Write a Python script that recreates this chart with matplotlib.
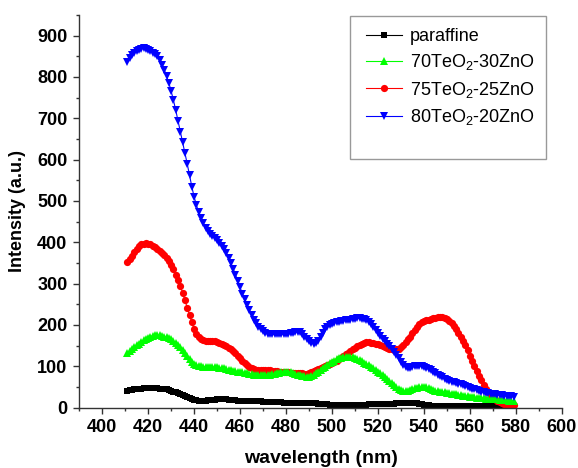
import matplotlib
matplotlib.use("Agg")
import matplotlib.pyplot as plt
from matplotlib.patches import Rectangle
from matplotlib.ticker import MultipleLocator

plt.rcParams['font.family'] = ['Liberation Sans', 'DejaVu Sans']
plt.rcParams['mathtext.fontset'] = 'custom'
plt.rcParams['mathtext.rm'] = 'Liberation Sans'
plt.rcParams['mathtext.it'] = 'Liberation Sans:italic'
plt.rcParams['mathtext.bf'] = 'Liberation Sans:bold'

# wavelength grid (nm), one reading per nm
wavelength = list(range(411, 580))

paraffine = [
    40, 42, 43, 44, 45, 46, 46, 47, 47, 47, 47, 47, 47, 47, 46, 46, 45, 44, 43, 41,
    39, 37, 35, 32, 30, 27, 25, 23, 21, 19, 18, 17, 17, 17, 17, 18, 18, 19, 19, 20,
    20, 20, 20, 20, 19, 19, 18, 18, 17, 17, 17, 16, 16, 16, 16, 15, 15, 15, 15, 14,
    14, 14, 14, 13, 13, 13, 13, 13, 12, 12, 12, 12, 12, 12, 12, 11, 11, 11, 12, 12,
    12, 11, 10, 9, 9, 8, 8, 8, 7, 7, 7, 7, 7, 7, 7, 7, 7, 7, 7, 7,
    7, 7, 7, 7, 7, 8, 8, 8, 8, 8, 8, 8, 8, 8, 9, 9, 9, 10, 10, 11,
    11, 12, 12, 12, 12, 11, 10, 9, 8, 7, 6, 6, 5, 5, 5, 4, 4, 4, 4, 4,
    4, 3, 3, 3, 3, 3, 3, 3, 3, 3, 3, 3, 3, 3, 3, 3, 4, 4, 5, 5,
    6, 6, 6, 6, 6, 6, 5, 5, 5,
]

teo70 = [
    132, 136, 141, 146, 151, 155, 159, 163, 166, 169, 172, 174, 175, 175, 175, 174, 172, 170, 168, 165,
    161, 157, 152, 146, 139, 132, 124, 117, 111, 106, 103, 101, 100, 99, 99, 99, 99, 98, 98, 98,
    97, 96, 95, 93, 92, 90, 89, 88, 87, 86, 85, 84, 83, 82, 81, 80, 80, 80, 80, 80,
    80, 80, 80, 81, 82, 83, 84, 85, 86, 86, 86, 85, 84, 82, 80, 78, 77, 76, 75, 75,
    76, 79, 83, 87, 91, 95, 99, 103, 107, 111, 114, 117, 119, 121, 122, 123, 123, 123, 122, 120,
    118, 115, 112, 109, 106, 103, 99, 95, 91, 87, 83, 79, 74, 69, 64, 59, 54, 49, 45, 42,
    40, 40, 41, 43, 45, 47, 48, 49, 50, 50, 49, 47, 45, 43, 41, 40, 39, 38, 37, 36,
    35, 34, 33, 32, 31, 30, 29, 28, 27, 26, 25, 25, 24, 24, 23, 23, 22, 22, 21, 21,
    20, 20, 19, 19, 18, 18, 17, 17, 16,
]

teo75 = [
    353, 360, 368, 377, 385, 391, 395, 397, 398, 397, 395, 392, 388, 384, 380, 375, 369, 362, 354, 345,
    335, 322, 308, 294, 278, 260, 242, 224, 206, 190, 178, 170, 165, 163, 162, 162, 162, 162, 161, 159,
    157, 155, 152, 149, 145, 141, 136, 131, 125, 119, 113, 107, 102, 98, 95, 93, 92, 91, 91, 91,
    90, 90, 90, 89, 89, 88, 87, 87, 86, 86, 85, 84, 83, 83, 83, 83, 83, 82, 82, 83,
    85, 88, 91, 94, 96, 98, 100, 102, 105, 108, 111, 114, 117, 121, 125, 129, 133, 137, 141, 145,
    149, 152, 155, 157, 158, 158, 157, 156, 155, 153, 151, 149, 147, 145, 143, 141, 140, 141, 143, 147,
    152, 158, 165, 172, 180, 188, 195, 202, 206, 209, 211, 213, 214, 216, 217, 219, 220, 219, 217, 214,
    210, 205, 198, 190, 181, 172, 162, 151, 139, 126, 113, 101, 89, 77, 66, 55, 46, 38, 31, 25,
    20, 16, 13, 10, 9, 8, 7, 7, 7,
]

teo80 = [
    837, 845, 852, 858, 863, 866, 868, 869, 868, 866, 863, 859, 855, 850, 842, 830, 818, 802, 786, 766,
    744, 720, 694, 668, 643, 617, 590, 562, 535, 510, 490, 473, 458, 446, 435, 427, 420, 415, 410, 405,
    398, 391, 383, 374, 363, 350, 336, 322, 306, 291, 276, 262, 249, 236, 224, 213, 204, 196, 190, 185,
    181, 179, 178, 177, 177, 177, 178, 178, 177, 177, 178, 180, 181, 182, 183, 182, 178, 172, 166, 161,
    157, 155, 156, 162, 171, 181, 190, 196, 200, 203, 205, 207, 208, 209, 210, 211, 212, 213, 214, 215,
    216, 216, 215, 214, 212, 208, 202, 195, 188, 180, 173, 166, 160, 154, 148, 142, 135, 127, 119, 111,
    104, 99, 96, 96, 98, 100, 101, 101, 100, 98, 96, 93, 90, 87, 84, 80, 76, 73, 70, 67,
    65, 63, 61, 60, 58, 56, 54, 52, 50, 48, 46, 44, 42, 40, 38, 37, 36, 35, 34, 33,
    32, 31, 30, 30, 29, 28, 28, 27, 26,
]

labels = ['paraffine', '70TeO$_2$-30ZnO', '75TeO$_2$-25ZnO', '80TeO$_2$-20ZnO']
colors = ['#000000', '#00ff00', '#ff0000', '#0000ff']
markers = ['s', '^', 'o', 'v']
msizes = [5.0, 6.0, 5.2, 6.0]

fig = plt.figure(figsize=(5.78, 4.68), dpi=100)
ax = fig.add_axes([0.137, 0.129, 0.835, 0.839])

series = [paraffine, teo70, teo75, teo80]
handles = [None] * 4
for i in [0, 2, 1, 3]:
    h, = ax.plot(wavelength, series[i], color=colors[i], marker=markers[i],
                 markersize=msizes[i], markeredgewidth=0, linewidth=0.8,
                 label=labels[i])
    handles[i] = h

ax.set_xlim(390, 600)
ax.set_ylim(0, 950)
ax.xaxis.set_major_locator(MultipleLocator(20))
ax.xaxis.set_minor_locator(MultipleLocator(10))
ax.yaxis.set_major_locator(MultipleLocator(100))
ax.yaxis.set_minor_locator(MultipleLocator(50))
ax.set_xticks(range(400, 601, 20))
ax.set_yticks(range(0, 901, 100))

for side in ['top', 'right']:
    ax.spines[side].set_visible(False)
for side in ['left', 'bottom']:
    ax.spines[side].set_color('#333333')
    ax.spines[side].set_linewidth(1.0)

ax.tick_params(which='major', direction='out', length=4.5, width=1.0,
               color='#333333', labelsize=13, pad=4)
ax.tick_params(which='minor', direction='out', length=2.5, width=1.0,
               color='#333333')
for lab in ax.get_xticklabels() + ax.get_yticklabels():
    lab.set_fontweight('bold')

ax.set_xlabel('wavelength (nm)', fontsize=14, fontweight='bold', labelpad=10)
ax.set_ylabel('Intensity (a.u.)', fontsize=13, fontweight='bold', labelpad=8)

# legend frame drawn as a separate box
ax.add_patch(Rectangle((0.561, 0.633), 0.406, 0.364, transform=ax.transAxes,
                       facecolor='white', edgecolor='#999999', linewidth=1.0,
                       zorder=4, clip_on=False))
leg = ax.legend(handles=handles, loc='upper left', bbox_to_anchor=(0.565, 1.003),
                frameon=False, fontsize=13, handlelength=2.0, handletextpad=0.4,
                labelspacing=0.4, borderpad=0.3)
leg.set_zorder(5)

fig.savefig('out.png', dpi=100)
